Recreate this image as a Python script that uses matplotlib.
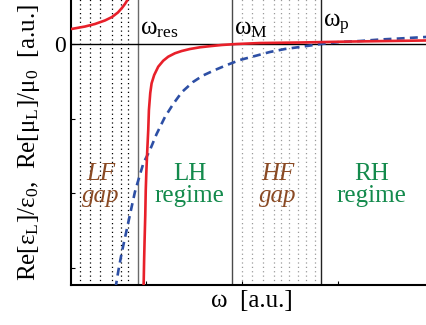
import matplotlib
matplotlib.use("Agg")
import matplotlib.pyplot as plt

SERIF = 'Liberation Serif'
plt.rcParams['font.family'] = 'serif'
plt.rcParams['font.serif'] = [SERIF]
plt.rcParams['mathtext.fontset'] = 'custom'
plt.rcParams['mathtext.rm'] = SERIF
plt.rcParams['mathtext.it'] = SERIF + ':italic'

# ---- data (arbitrary units) ----
mu_left_w = [0.219, 0.365, 0.469, 0.573, 0.646, 0.708, 0.750, 0.781, 0.807, 0.823]
mu_left_v = [0.200, 0.234, 0.268, 0.315, 0.361, 0.422, 0.482, 0.535, 0.589, 0.629]

mu_right_w = [0.972, 0.976, 0.981, 0.986, 0.993, 0.998, 1.005, 1.014, 1.024, 1.031, 1.045,
              1.059, 1.086, 1.128, 1.180, 1.232, 1.302, 1.372, 1.458, 1.563, 1.667,
              1.792, 1.945, 2.188, 2.604, 3.125, 3.917, 4.2]
mu_right_v = [-3.50, -3.226, -2.892, -2.624, -2.289, -1.954, -1.687, -1.419, -1.151, -0.884, -0.656,
              -0.526, -0.415, -0.304, -0.224, -0.170, -0.124, -0.094, -0.067, -0.044, -0.029,
              -0.013, 0.000, 0.013, 0.020, 0.033, 0.047, 0.050]

eps_w = [0.670, 0.688, 0.714, 0.747, 0.799, 0.844, 0.885, 0.927, 0.974, 1.042, 1.111, 1.198,
         1.284, 1.375, 1.490, 1.594, 1.719, 1.844, 1.979, 2.135, 2.292, 2.448, 2.604,
         2.823, 3.021, 3.229, 3.438, 3.646, 3.917, 4.2]
eps_v = [-3.45, -3.226, -3.025, -2.798, -2.490, -2.222, -1.981, -1.794, -1.593, -1.419, -1.205, -0.977,
         -0.803, -0.643, -0.509, -0.422, -0.348, -0.281, -0.214, -0.161, -0.107, -0.067, -0.040,
         0.000, 0.027, 0.040, 0.060, 0.074, 0.094, 0.11]

w_res, w_M, w_p = 0.922, 1.896, 2.823
lf_dotted = [0.3125, 0.417, 0.521, 0.646, 0.740, 0.8125]
hf_dotted = [2.0, 2.104, 2.219, 2.333, 2.406, 2.49, 2.583, 2.667, 2.76]
x_ticks = [1, 2, 3]
y_ticks = [-3, -2, -1, 0, 1]
y_ticklabels = ['', '', '', '0', '']

# ---- figure ----
W, H = 426, 325
fig = plt.figure(figsize=(W / 100, H / 100), dpi=100)
left_px, right_px, bottom_px, top_px = 71, 453, 285, -30.7
ax = fig.add_axes([left_px / W, 1 - bottom_px / H,
                   (right_px - left_px) / W, (bottom_px - top_px) / H])
ax.set_xlim(0.219, 4.2)
ax.set_ylim(-3.226, 1.0)

for x in lf_dotted:
    ax.axvline(x, color='black', lw=0.9, linestyle=(0, (1, 2.5)), zorder=1)
for x in hf_dotted:
    ax.axvline(x, color='#9a9a9a', lw=0.9, linestyle=(0, (1, 2.5)), zorder=1)

ax.axvline(w_res, color='#6a6a6a', lw=1.0, zorder=2)
ax.axvline(w_M, color='#4a4a4a', lw=1.0, zorder=2)
ax.axvline(w_p, color='#222222', lw=1.0, zorder=2)
ax.axhline(0, color='black', lw=1.0, zorder=2)

red = '#e8202a'
blue = '#2d4fa5'
ax.plot(mu_left_w, mu_left_v, color=red, lw=1.9, zorder=4, solid_capstyle='butt', solid_joinstyle='round')
ax.plot(mu_right_w, mu_right_v, color=red, lw=1.9, zorder=4, solid_capstyle='butt', solid_joinstyle='round')
ax.plot(eps_w, eps_v, color=blue, lw=1.9, dashes=(3, 2), zorder=3)

FS = 18
ax.set_xticks(x_ticks)
ax.set_xticklabels([])
ax.set_yticks(y_ticks)
ax.set_yticklabels(y_ticklabels, fontsize=17, family=SERIF)
ax.tick_params(direction='in', length=3, width=0.8, top=True, right=True, pad=4)
for s in ax.spines.values():
    s.set_linewidth(1.5)

# frequency labels
ax.text(0.935, 0.05, r'ω$_\mathrm{res}$', fontsize=FS, ha='left', va='bottom', family=SERIF)
ax.text(1.92, 0.05, r'ω$_\mathrm{M}$', fontsize=FS, ha='left', va='bottom', family=SERIF)
ax.text(2.848, 0.09, r'ω$_\mathrm{p}$', fontsize=FS, ha='left', va='bottom', family=SERIF)

brown = '#8a4a24'
green = '#138a4c'
ax.text(0.531, -1.89, 'LF\ngap', fontsize=FS, style='italic', color=brown,
        ha='center', va='center', linespacing=1.0, family=SERIF)
ax.text(1.458, -1.89, 'LH\nregime', fontsize=FS, color=green,
        ha='center', va='center', linespacing=1.0, family=SERIF)
ax.text(2.375, -1.89, 'HF\ngap', fontsize=FS, style='italic', color=brown,
        ha='center', va='center', linespacing=1.0, family=SERIF)
ax.text(3.354, -1.89, 'RH\nregime', fontsize=FS, color=green,
        ha='center', va='center', linespacing=1.0, family=SERIF)

fig.text(251.5 / W, 1 - 301 / H, 'ω  [a.u.]', fontsize=FS, ha='center', va='center', family=SERIF)
fig.text(29 / W, 1 - 143 / H,
         r'Re[ε$_\mathrm{L}$]/ε$_0$,  Re[μ$_\mathrm{L}$]/μ$_0$  [a.u.]',
         fontsize=FS, rotation=90, ha='center', va='center', family=SERIF)

fig.savefig('out.png', dpi=100)
